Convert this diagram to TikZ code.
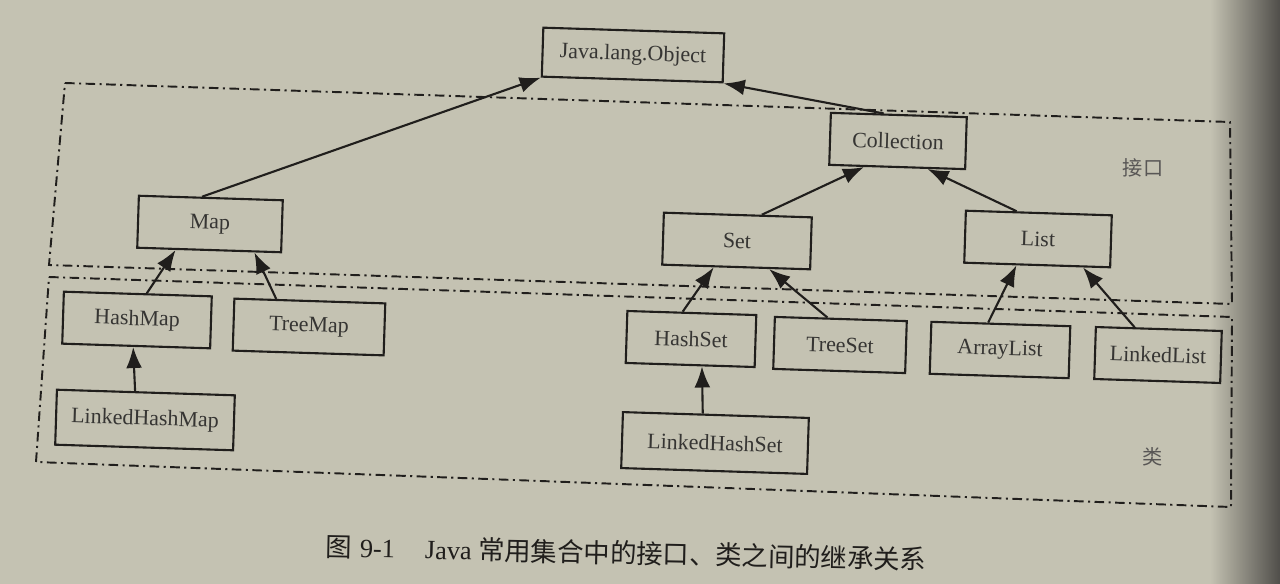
\documentclass[tikz,border=0pt]{standalone}
\usepackage{fontspec}
\setmainfont{Liberation Serif}
\newfontfamily\cjk{Noto Sans CJK SC}
\usetikzlibrary{arrows.meta,calc}
\definecolor{paper}{RGB}{196,194,178}
\definecolor{shadow}{RGB}{80,78,74}
\definecolor{ink}{RGB}{32,30,28}

\begin{document}
\begin{tikzpicture}[x=0.02cm,y=-0.02cm,
    box/.style={draw=ink, line width=1.2pt, rotate=-1.8, minimum height=1.04cm, inner sep=0pt, text=ink!90, font=\fontsize{12.5}{14}\selectfont},
    inh/.style={draw=ink, line width=1.2pt, -{Latex[length=12pt,width=9pt]}},
    zone/.style={draw=ink, line width=1.1pt, dash pattern=on 5.5pt off 2.5pt on 1.2pt off 2.5pt},
    lbl/.style={text=ink!75, font=\cjk\fontsize{11.5}{13}\selectfont}]
    \fill[paper] (0,0) rectangle (1280,584);
    \shade[left color=paper, right color=shadow] (1210,0) rectangle (1280,584);
    \useasboundingbox (0,0) rectangle (1280,584);

    % interface and class zones
    \draw[zone] (65,83) -- (1230,122) -- (1232,304) -- (49,265) -- cycle;
    \draw[zone] (49,277) -- (1232,317) -- (1231,507) -- (36,462) -- cycle;
    \node[lbl] (jiekou) at (1143,168) {接口};
    \node[lbl] (lei) at (1153,457) {类};

    % interfaces
    \node[box, minimum width=3.62cm, minimum height=0.98cm] (obj) at (633,55) {Java.lang.Object};
    \node[box, minimum width=2.72cm] (coll) at (898,141) {Collection};
    \node[box, minimum width=2.88cm] (map) at (210,224) {Map};
    \node[box, minimum width=2.96cm] (set) at (737,241) {Set};
    \node[box, minimum width=2.92cm] (list) at (1038,239) {List};

    % classes
    \node[box, minimum width=2.96cm] (hmap) at (137,320) {HashMap};
    \node[box, minimum width=3.02cm] (tmap) at (309,327) {TreeMap};
    \node[box, minimum width=3.56cm, minimum height=1.1cm] (lhmap) at (145,420) {LinkedHashMap};
    \node[box, minimum width=2.58cm] (hset) at (691,339) {HashSet};
    \node[box, minimum width=2.64cm] (tset) at (840,345) {TreeSet};
    \node[box, minimum width=3.72cm, minimum height=1.12cm] (lhset) at (715,443) {LinkedHashSet};
    \node[box, minimum width=2.78cm] (alist) at (1000,350) {ArrayList};
    \node[box, minimum width=2.52cm] (llist) at (1158,355) {LinkedList};

    % inheritance arrows
    \foreach \c/\a/\p/\b in {map/0.44/obj/0, coll/0.39/obj/1, set/0.66/coll/0.26, list/0.35/coll/0.72,
        hmap/0.56/map/0.27, tmap/0.28/map/0.81, lhmap/0.44/hmap/0.48,
        hset/0.43/set/0.35, tset/0.40/set/0.72, lhset/0.43/hset/0.59,
        alist/0.41/list/0.36, llist/0.31/list/0.81}
        \draw[inh] ($(\c.north west)!\a!(\c.north east)$) -- ($(\p.south west)!\b!(\p.south east)$);

    \node[rotate=-1.2, text=ink, font=\fontsize{15}{17}\selectfont] (cap) at (626,553)
        {{\cjk 图}\hspace{0.16cm}9-1\hspace{0.6cm}Java {\cjk 常用集合中的接口、类之间的继承关系}};
\end{tikzpicture}
\end{document}
